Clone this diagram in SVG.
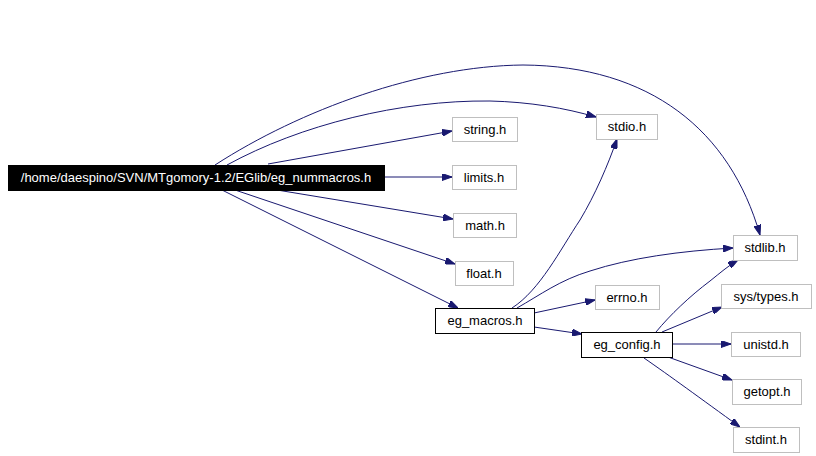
<svg xmlns="http://www.w3.org/2000/svg" width="816" height="456" viewBox="0 0 816 456">
<defs>
<style>
.n rect{fill:#fff;stroke:#bfbfbf;stroke-width:1}
.n.b rect{stroke:#000}
.n text{font-family:"Liberation Sans",Arial,sans-serif;font-size:13px;fill:#000;text-anchor:middle}
#main rect{fill:#000;stroke:#000}
#main text{fill:#fff}
.e path{fill:none;stroke:#191970;stroke-width:1}
</style>
<marker id="ah" viewBox="0 0 10 7" refX="10" refY="3.5" markerWidth="10" markerHeight="7" markerUnits="userSpaceOnUse" orient="auto">
<path d="M0,0 L10,3.5 L0,7 Z" fill="#191970" stroke="#191970"/>
</marker>
</defs>
<rect width="816" height="456" fill="#fff"/>
<g class="e" marker-end="url(#ah)">
<path marker-end="url(#ah)" d="M215,165 C300,110 420,66 523,65 C650,66 730,130 760,235"/>
<path marker-end="url(#ah)" d="M227,165 C300,125 400,100 490,101 C530,102 565,108 596,117"/>
<path marker-end="url(#ah)" d="M268,164 L452,131"/>
<path marker-end="url(#ah)" d="M384,177 L452,177"/>
<path marker-end="url(#ah)" d="M277,190 L453,219"/>
<path marker-end="url(#ah)" d="M235,190 L455,264"/>
<path marker-end="url(#ah)" d="M222,190 L458,308"/>
<path marker-end="url(#ah)" d="M512,308 C540,290 560,250 580,220 C595,195 608,165 617,139"/>
<path marker-end="url(#ah)" d="M517,308 C540,295 560,280 590,271 C630,258 680,251 733,248"/>
<path marker-end="url(#ah)" d="M534,313 L595,300"/>
<path marker-end="url(#ah)" d="M534,327 L582,334"/>
<path marker-end="url(#ah)" d="M656,332 C670,315 690,296 710,281 C720,273 728,266 738,260"/>
<path marker-end="url(#ah)" d="M662,332 L722,307"/>
<path marker-end="url(#ah)" d="M672,344 L731,344"/>
<path marker-end="url(#ah)" d="M668,357 L732,380"/>
<path marker-end="url(#ah)" d="M644,358 C670,376 700,398 740,427"/>
</g>
<g id="main" class="n"><rect x="8.5" y="165.5" width="376" height="25"/><text x="196" y="182">/home/daespino/SVN/MTgomory-1.2/EGlib/eg_nummacros.h</text></g>
<g id="string" class="n"><rect x="452.5" y="117.5" width="65" height="24"/><text x="485" y="134">string.h</text></g>
<g id="stdio" class="n"><rect x="596.5" y="114.5" width="61" height="25"/><text x="627" y="131">stdio.h</text></g>
<g id="limits" class="n"><rect x="452.5" y="165.5" width="64" height="24"/><text x="484" y="182">limits.h</text></g>
<g id="math" class="n"><rect x="453.5" y="213.5" width="63" height="24"/><text x="485" y="230">math.h</text></g>
<g id="float" class="n"><rect x="455.5" y="261.5" width="58" height="24"/><text x="484" y="278">float.h</text></g>
<g id="stdlib" class="n"><rect x="733.5" y="235.5" width="64" height="25"/><text x="765" y="252">stdlib.h</text></g>
<g id="errno" class="n"><rect x="595.5" y="285.5" width="64" height="24"/><text x="627" y="302">errno.h</text></g>
<g id="eg_macros" class="n b"><rect x="435.5" y="308.5" width="99" height="25"/><text x="485" y="325">eg_macros.h</text></g>
<g id="eg_config" class="n b"><rect x="581.5" y="332.5" width="91" height="25"/><text x="627" y="349">eg_config.h</text></g>
<g id="systypes" class="n"><rect x="721.5" y="284.5" width="90" height="24"/><text x="766" y="301">sys/types.h</text></g>
<g id="unistd" class="n"><rect x="731.5" y="332.5" width="69" height="24"/><text x="766" y="349">unistd.h</text></g>
<g id="getopt" class="n"><rect x="732.5" y="379.5" width="69" height="25"/><text x="767" y="396">getopt.h</text></g>
<g id="stdint" class="n"><rect x="733.5" y="427.5" width="66" height="25"/><text x="766" y="444">stdint.h</text></g>
</svg>
